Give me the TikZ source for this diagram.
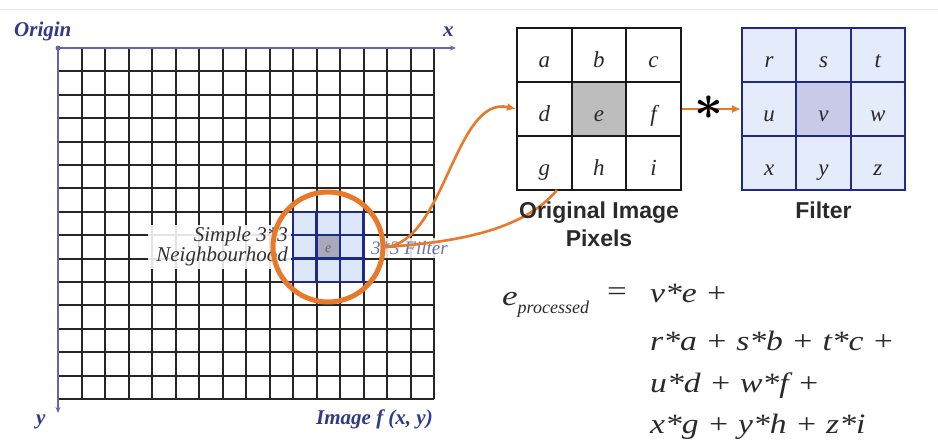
\documentclass[tikz,border=0pt]{standalone}
\usepackage{fontspec}
\setmainfont{Liberation Serif}
\setsansfont{Liberation Sans}
\usetikzlibrary{arrows.meta}
\definecolor{axisblue}{HTML}{6464B4}
\definecolor{labelblue}{HTML}{2E3A8C}
\definecolor{navy}{HTML}{1E2A8A}
\definecolor{orng}{HTML}{E8792A}
\definecolor{lblue}{HTML}{DDE7FA}
\definecolor{fblue}{HTML}{E4EBFB}
\definecolor{fcent}{HTML}{C8CAE8}
\definecolor{ocent}{HTML}{BDBDBD}
\definecolor{nbcent}{HTML}{A9A9BC}
\definecolor{txtgray}{HTML}{2A2A2A}
\begin{document}
\begin{tikzpicture}[x=1pt,y=-1pt,
  gridline/.style={black!85, line width=1.2pt},
  axisline/.style={axisblue, line width=2pt, -{Stealth[length=6pt,width=5pt]}},
  axlabel/.style={labelblue, font=\fontsize{21}{21}\selectfont\bfseries\itshape, inner sep=0pt},
  nbcell/.style={draw=navy, line width=2.4pt, fill=lblue, minimum width=23.5pt, minimum height=23.4pt, inner sep=0pt},
  ocell/.style={draw=black!90, line width=2pt, fill=white, minimum width=54.6pt, minimum height=54pt, inner sep=0pt, font=\fontsize{23}{23}\selectfont\itshape, text=txtgray, text height=24pt, text depth=0pt},
  fcell/.style={draw=navy, line width=2pt, fill=fblue, minimum width=54.3pt, minimum height=54pt, inner sep=0pt, font=\fontsize{23}{23}\selectfont\itshape, text=txtgray, text height=24pt, text depth=0pt},
  orangeline/.style={orng, line width=2.6pt},
  boldlabel/.style={font=\fontsize{23}{28}\selectfont\sffamily\bfseries, text=txtgray, align=center, inner sep=0pt},
  eqtext/.style={font=\fontsize{28}{28}\selectfont\itshape, text=txtgray, inner sep=0pt, anchor=base west},
  nblabel/.style={font=\fontsize{21}{17}\selectfont\itshape, text=black!80, inner sep=0pt}
]
\useasboundingbox (0,0) rectangle (938,442);
\fill[white] (0,0) rectangle (938,442);
\draw[gray!20, line width=1pt] (0,9) -- (938,9);

% grid
\foreach \i in {1,...,16} \draw[gridline] ({round(58+23.5*\i)},48) -- ({round(58+23.5*\i)},399);
\foreach \j in {1,...,15} \draw[gridline] (58,{round(48+23.4*\j)}) -- (434,{round(48+23.4*\j)});

% axes
\fill[axisblue] (58,48) circle (2.5pt);
\coordinate (origin) at (58,48);
\coordinate (xend) at (456,48);
\coordinate (yend) at (58,413);
\draw[axisline] (origin) -- (xend);
\draw[axisline] (origin) -- (yend);
\node[axlabel, anchor=base west] (orig) at (14,36) {Origin};
\node[axlabel, anchor=base west] (xl) at (443,36) {x};
\node[axlabel, anchor=base west] (yl) at (36,424) {y};
\node[axlabel, anchor=base east] (imgl) at (433,424) {Image f (x, y)};

% neighbourhood label box
\fill[white, opacity=0.88] (148,225) rectangle (291,269);
\node[nblabel, align=right, anchor=north east] (nb) at (288,227) {Simple 3*3\\Neighbourhood};

% 3x3 block
\foreach \r in {0,1,2} {
  \foreach \c in {0,1,2} {
    \node[nbcell] (nb\r\c) at ({293+23.5*\c+11.75},{211.8+23.4*\r+11.7}) {};
  }
}
\node[nbcell, fill=nbcent, font=\fontsize{14}{14}\selectfont\itshape, text=black!60, text height=11pt, text depth=0pt] at (nb11) {e};

% 3*3 Filter label
\fill[white, opacity=0.85] (367,238) rectangle (458,258);
\node[font=\fontsize{19}{19}\selectfont\itshape, text=labelblue!80, inner sep=0pt, anchor=base west, opacity=0.9] (fl) at (371,254) {3*3 Filter};

% circle
\node[draw=orng, line width=5pt, circle, minimum size=110pt, inner sep=0pt] (circ) at (328,247) {};

% original image
\foreach \r/\a/\b/\cc in {1/a/b/c,2/d/e/f,3/g/h/i} {
  \node[ocell] (o\r1) at (544.3,{28+54*(\r-1)+27}) {\a};
  \node[ocell] (o\r2) at (598.9,{28+54*(\r-1)+27}) {\b};
  \node[ocell] (o\r3) at (653.5,{28+54*(\r-1)+27}) {\cc};
}
\node[ocell, fill=ocent] at (o22) {e};

% filter
\foreach \r/\a/\b/\cc in {1/r/s/t,2/u/v/w,3/x/y/z} {
  \node[fcell] (f\r1) at (769.2,{28+54*(\r-1)+27}) {\a};
  \node[fcell] (f\r2) at (823.5,{28+54*(\r-1)+27}) {\b};
  \node[fcell] (f\r3) at (877.8,{28+54*(\r-1)+27}) {\cc};
}
\node[fcell, fill=fcent] at (f22) {v};

% connectors
\coordinate (gend) at (557,190);
\draw[orangeline] (circ.east) .. controls (440,243) and (520,235) .. (gend);
\draw[orangeline, -{Latex[length=9pt,width=8pt]}] (circ.east) .. controls (445,242) and (455,95) .. (o21.west);
\draw[orangeline, -{Latex[length=9pt,width=8pt]}] (o23.east) -- (f21.west);
\node[inner sep=0pt, text=black] (star) at (709,108) {\scalebox{5}{\boldmath$\ast$}};

% labels
\node[boldlabel, anchor=base] (origlab) at (599,218) {Original Image};
\node[boldlabel, anchor=base] (pixlab) at (599,246) {Pixels};
\node[boldlabel, anchor=base] (filtlab) at (823.5,218) {Filter};

% equation
\node[eqtext] (lhs) at (502,305) {\scalebox{1.25}[1]{e}\raisebox{-8pt}{\fontsize{18}{18}\selectfont processed}};
\node[eqtext, font=\fontsize{28}{28}\selectfont\upshape] (eq) at (607,300) {\scalebox{1.25}[1]{=}};
\node[eqtext] (l1) at (650,302) {\scalebox{1.2}[1]{v*e +}};
\node[eqtext] (l2) at (650,350) {\scalebox{1.2}[1]{r*a + s*b + t*c +}};
\node[eqtext] (l3) at (650,392) {\scalebox{1.2}[1]{u*d + w*f +}};
\node[eqtext] (l4) at (650,433) {\scalebox{1.2}[1]{x*g + y*h + z*i}};
\end{tikzpicture}
\end{document}
